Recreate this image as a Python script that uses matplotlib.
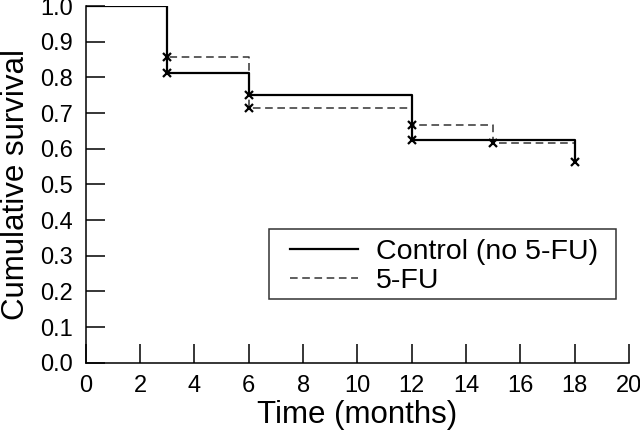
import numpy as np
import matplotlib.pyplot as plt
from matplotlib.patches import Rectangle

plt.rcParams['font.family'] = ['Liberation Sans', 'DejaVu Sans']

# Kaplan-Meier steps
ctrl_t = [0, 3, 6, 12, 18]
ctrl_s = [1.0, 0.8125, 0.75, 0.625, 0.5625]
fu_t = [0, 3, 6, 12, 15, 18]
fu_s = [1.0, 0.857, 0.714, 0.667, 0.617, 0.617]

# x marks on the curves
ctrl_mark_t = [3, 6, 12, 18]
ctrl_mark_s = [0.8125, 0.75, 0.625, 0.5625]
fu_mark_t = [3, 6, 12, 15]
fu_mark_s = [0.857, 0.714, 0.667, 0.617]

W, H = 640, 433
fig = plt.figure(figsize=(6.4, 4.33), dpi=100)
ax = fig.add_axes([0.134, 0.162, 0.849, 0.824])

ax.plot(fu_t, fu_s, drawstyle='steps-post', color='#333333', lw=1.1,
        ls=(0, (5, 3)), label='5-FU')
ax.plot(ctrl_t, ctrl_s, drawstyle='steps-post', color='black', lw=1.6,
        label='Control (no 5-FU)')
ax.plot(fu_mark_t, fu_mark_s, 'x', color='black', ms=6, mew=1.6)
ax.plot(ctrl_mark_t, ctrl_mark_s, 'x', color='black', ms=6, mew=1.6)

ax.set_xlim(0, 20)
ax.set_ylim(0, 1.0)
ax.set_xticks(np.arange(0, 21, 2))
ax.set_yticks(np.arange(0, 1.01, 0.1))
ax.set_yticklabels([f'{v:.1f}' for v in np.arange(0, 1.01, 0.1)])
ax.spines['top'].set_visible(False)
ax.spines['right'].set_visible(False)
for s in ['left', 'bottom']:
    ax.spines[s].set_linewidth(1.1)
ax.tick_params(direction='in', length=13.5, width=1.1, labelsize=17, pad=9)

ax.set_xlabel('Time (months)', fontsize=22.5, labelpad=2)
ax.set_ylabel('Cumulative survival', fontsize=22.5, labelpad=7)

# legend: frameless entries inside a hand-placed box
h, l = ax.get_legend_handles_labels()
leg = ax.legend(h[::-1], l[::-1], loc='upper left',
                bbox_to_anchor=(290 / W, 1 - 239 / H), bbox_transform=fig.transFigure,
                fontsize=20.5, frameon=False, handlelength=2.4,
                borderpad=0, labelspacing=0.1, handletextpad=0.62, borderaxespad=0)
fig.add_artist(Rectangle((269 / W, 1 - 299 / H), (616 - 269) / W, (299 - 229) / H,
                         transform=fig.transFigure, fill=False,
                         edgecolor='#333333', lw=1.1))

fig.savefig('out.png', dpi=100)
